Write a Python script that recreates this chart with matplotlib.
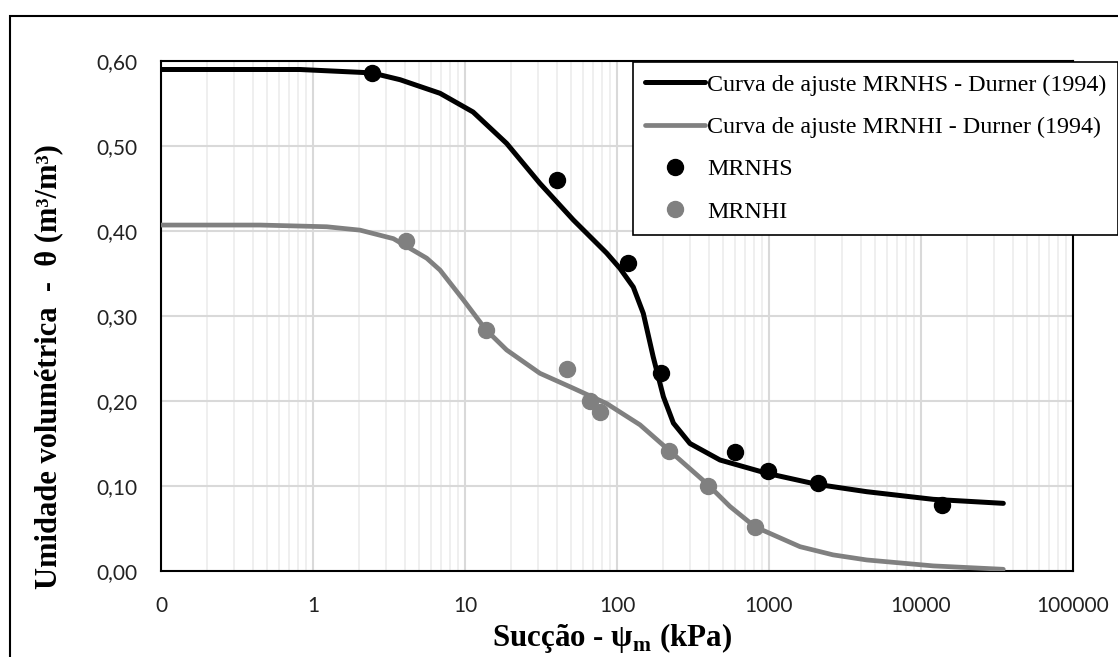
import numpy as np
import matplotlib
matplotlib.use('Agg')
import matplotlib.pyplot as plt
from matplotlib.patches import Rectangle
from matplotlib.ticker import FixedLocator, LogLocator, NullFormatter

plt.rcParams['mathtext.fontset'] = 'custom'
plt.rcParams['mathtext.rm'] = 'Liberation Serif'
plt.rcParams['mathtext.bf'] = 'Liberation Serif:bold'

# curva de ajuste MRNHS
suc_ajuste_s = [0.1, 0.5, 0.82, 2.44, 3.74, 6.85, 11.3, 18.8, 31.1, 51.6, 85.5, 104.6,
                128, 149, 173, 202, 235, 302, 476, 966, 2061, 4395, 12050, 34800]
teta_ajuste_s = [0.590, 0.590, 0.590, 0.586, 0.578, 0.562, 0.540, 0.503, 0.456, 0.413, 0.374, 0.356,
                 0.334, 0.303, 0.252, 0.205, 0.174, 0.150, 0.1306, 0.115, 0.102, 0.0933, 0.0843, 0.0796]

# curva de ajuste MRNHI
suc_ajuste_i = [0.1, 0.448, 1.23, 2.04, 3.38, 5.6, 6.85, 9.75, 13.7, 18.8, 31.1, 51.6, 85.5,
                141.6, 220, 389, 553, 809, 1600, 2636, 4395, 12050, 34800]
teta_ajuste_i = [0.407, 0.407, 0.405, 0.401, 0.391, 0.368, 0.354, 0.319, 0.284, 0.260, 0.2326, 0.215, 0.197,
                 0.172, 0.142, 0.103, 0.076, 0.052, 0.0286, 0.019, 0.013, 0.006, 0.002]

# pontos experimentais
suc_s = [2.44, 40.3, 118, 195, 598, 985, 2100, 13700]
teta_s = [0.586, 0.460, 0.362, 0.233, 0.140, 0.118, 0.104, 0.078]

suc_i = [4.09, 13.7, 46.9, 66.4, 77.3, 220, 397, 809]
teta_i = [0.388, 0.284, 0.238, 0.200, 0.187, 0.141, 0.100, 0.052]

xticks = [0.1, 1, 10, 100, 1000, 10000, 100000]
xlabels = ['0', '1', '10', '100', '1000', '10000', '100000']
yticks = [0.0, 0.1, 0.2, 0.3, 0.4, 0.5, 0.6]
ylabels = ['0,00', '0,10', '0,20', '0,30', '0,40', '0,50', '0,60']

cinza = '#808080'

fig = plt.figure(figsize=(11.18, 6.57), dpi=100)
ax = fig.add_axes([161/1118, 1 - 571/657, 912/1118, 510/657])

ax.plot(suc_ajuste_s, teta_ajuste_s, color='black', lw=3.6, solid_capstyle='round',
        solid_joinstyle='round', label='Curva de ajuste MRNHS - Durner (1994)', zorder=3)
ax.plot(suc_ajuste_i, teta_ajuste_i, color=cinza, lw=3.4, solid_capstyle='round',
        solid_joinstyle='round', label='Curva de ajuste MRNHI - Durner (1994)', zorder=3)
ax.plot(suc_s, teta_s, 'o', color='black', ms=11.5, label='MRNHS', zorder=4)
ax.plot(suc_i, teta_i, 'o', color=cinza, ms=11.5, label='MRNHI', zorder=4)

ax.set_xscale('log')
ax.set_xlim(0.1, 100000)
ax.set_ylim(0, 0.6)
ax.xaxis.set_major_locator(FixedLocator(xticks))
ax.set_xticklabels(xlabels)
ax.xaxis.set_minor_locator(LogLocator(base=10, subs=np.arange(2, 10)))
ax.xaxis.set_minor_formatter(NullFormatter())
ax.set_yticks(yticks)
ax.set_yticklabels(ylabels)

ax.tick_params(which='both', length=0, labelsize=15, colors='#222222')
ax.tick_params(axis='y', pad=17)
ax.tick_params(axis='x', pad=18)
for t in ax.get_xticklabels() + ax.get_yticklabels():
    t.set_family('Lato')

ax.grid(True, which='major', axis='both', color='#d9d9d9', lw=1.5, zorder=0)
ax.grid(True, which='minor', axis='x', color='#ececec', lw=1.2, zorder=0)
ax.set_axisbelow(True)
for s in ax.spines.values():
    s.set_linewidth(1.5)
    s.set_color('black')

ax.set_xlabel('Sucção - ψ$_{\\mathbf{m}}$ (kPa)', family='Liberation Serif',
              fontweight='bold', fontsize=22.3)
ax.xaxis.set_label_coords(0.495, -0.099)
ax.set_ylabel('Umidade volumétrica  -  θ (m³/m³)', family='Liberation Serif',
              fontweight='bold', fontsize=22)
ax.yaxis.set_label_coords(-0.107, 0.40)

leg = ax.legend(loc='upper left', bbox_to_anchor=(633/1118, 1 - 62/657, 485/1118, 0),
                bbox_transform=fig.transFigure, mode='expand', frameon=True, fancybox=False,
                edgecolor='black', framealpha=1, borderaxespad=0,
                prop={'family': 'Liberation Serif', 'size': 17.3},
                handlelength=2.5, handletextpad=0.1, labelspacing=0.85, borderpad=0.5)
leg.get_frame().set_linewidth(1.2)

# moldura externa
fig.add_artist(Rectangle((10/1118, -0.1), 1.2, 1.1 - 16/657, transform=fig.transFigure,
                         fill=False, edgecolor='black', lw=1.5))

fig.savefig('out.png', dpi=100)
